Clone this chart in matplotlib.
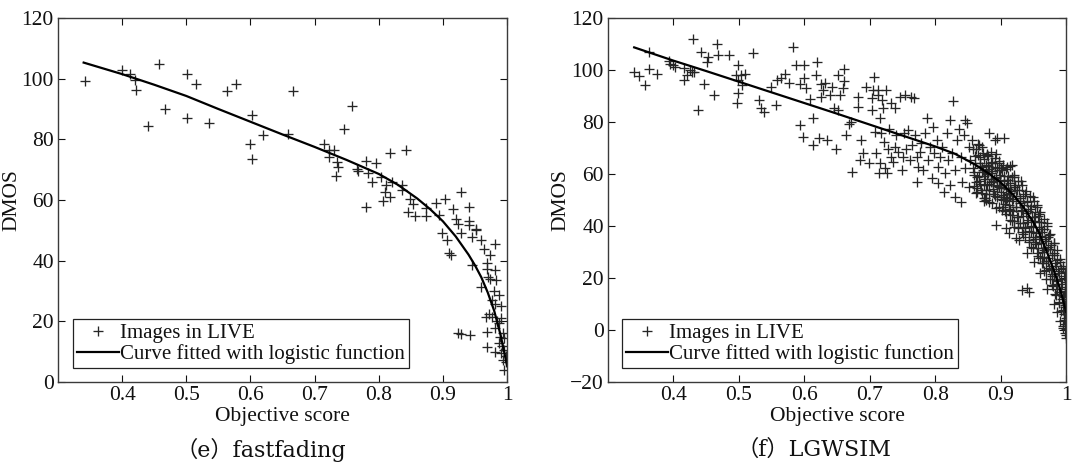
import matplotlib
matplotlib.use("Agg")
import matplotlib.pyplot as plt

# ---------------- data: (e) fastfading ----------------
ff_points = [
    (0.342, 99.2), (0.400, 102.9), (0.412, 101.6), (0.420, 99.7), (0.422, 96.2),
    (0.440, 84.4), (0.458, 105.0), (0.467, 90.0), (0.501, 101.4), (0.501, 86.9),
    (0.515, 98.3), (0.535, 85.3), (0.563, 96.0), (0.577, 98.3), (0.603, 88.0),
    (0.600, 78.5), (0.603, 73.6), (0.620, 81.3), (0.658, 81.7), (0.667, 96.0),
    (0.759, 91.1), (0.746, 83.5), (0.714, 78.5), (0.722, 76.5), (0.730, 76.5),
    (0.723, 74.2), (0.735, 72.6), (0.736, 70.8), (0.734, 67.8), (0.766, 70.2),
    (0.768, 69.6), (0.780, 72.8), (0.780, 57.6), (0.784, 68.8), (0.790, 66.0),
    (0.796, 72.1), (0.804, 67.7), (0.806, 59.8), (0.810, 62.7), (0.818, 75.6),
    (0.811, 64.9), (0.818, 61.1), (0.820, 66.0), (0.836, 64.9), (0.842, 76.5),
    (0.837, 63.3), (0.848, 60.2), (0.846, 56.1), (0.853, 58.7), (0.857, 54.7),
    (0.873, 54.7), (0.873, 57.4), (0.890, 59.1), (0.894, 55.1), (0.903, 60.2),
    (0.916, 56.9), (0.920, 53.9), (0.928, 62.7), (0.940, 57.6), (0.940, 53.2),
    (0.941, 51.7), (0.952, 50.6), (0.899, 49.0), (0.907, 46.8), (0.928, 49.0),
    (0.923, 52.2), (0.946, 47.9), (0.951, 50.1), (0.959, 46.8), (0.981, 45.5),
    (0.974, 42.0), (0.910, 42.4), (0.913, 42.0), (0.946, 38.6), (0.969, 39.1),
    (0.969, 37.4), (0.982, 36.9), (0.974, 34.1), (0.983, 33.5), (0.959, 31.4),
    (0.987, 28.7), (0.982, 25.7), (0.977, 21.5), (0.967, 21.5), (0.972, 22.5),
    (0.990, 21.0), (0.995, 14.4), (0.923, 16.0), (0.928, 15.8), (0.943, 15.5),
    (0.969, 16.6), (0.982, 17.7), (0.987, 19.3), (0.969, 11.6), (0.982, 10.0),
    (0.990, 9.4), (0.993, 7.1), (0.995, 3.9), (0.987, 12.7), (0.992, 12.0),
    (0.996, 10.5), (0.998, 8.5), (0.999, 6.5), (0.994, 16.0), (0.989, 15.0),
    (0.985, 20.0), (0.979, 30.0), (0.976, 27.0), (0.990, 25.0), (0.964, 44.0),
    (0.971, 34.5),
]
ff_fit_x = [0.34, 0.40, 0.45, 0.50, 0.55, 0.60, 0.65, 0.70, 0.75, 0.80, 0.83,
            0.86, 0.88, 0.90, 0.92, 0.94, 0.95, 0.96, 0.97, 0.98, 0.99, 0.995, 1.0]
ff_fit_y = [105.3, 101.5, 98.0, 94.3, 90.0, 85.8, 81.6, 77.5, 73.2, 68.6, 65.0,
            60.5, 57.0, 53.0, 48.0, 42.0, 38.5, 34.5, 29.5, 23.5, 15.5, 10.5, 5.5]

# ---------------- data: (f) LGWSIM ----------------
lg_points_upper = [
    (0.340, 99.3), (0.347, 97.7), (0.356, 94.2), (0.362, 100.2), (0.362, 107.0),
    (0.375, 98.4), (0.393, 103.6), (0.394, 102.3), (0.399, 101.9), (0.403, 101.3),
    (0.416, 100.6), (0.416, 96.1), (0.420, 98.1), (0.425, 100.0), (0.429, 99.3),
    (0.432, 99.3), (0.437, 84.8), (0.430, 111.8), (0.442, 107.0), (0.446, 94.8),
    (0.451, 103.2), (0.453, 105.1), (0.462, 90.4), (0.466, 110.0), (0.468, 105.7),
    (0.485, 105.7), (0.498, 101.9), (0.495, 98.1), (0.498, 96.1), (0.498, 91.0),
    (0.497, 87.4), (0.503, 98.1), (0.509, 98.4), (0.505, 94.2), (0.522, 106.4),
    (0.531, 88.4), (0.534, 85.2), (0.539, 83.9), (0.549, 93.3), (0.557, 86.5),
    (0.559, 96.1), (0.564, 96.8), (0.571, 98.4), (0.577, 95.1), (0.583, 108.7),
    (0.588, 101.9), (0.593, 94.6), (0.593, 78.8), (0.598, 74.1), (0.600, 101.9),
    (0.600, 96.8), (0.603, 92.9), (0.608, 88.7), (0.613, 81.4), (0.614, 71.1),
    (0.619, 103.2), (0.618, 98.1), (0.623, 73.7), (0.625, 94.8), (0.626, 89.7),
    (0.628, 92.3), (0.631, 95.1), (0.635, 73.1), (0.640, 90.4), (0.642, 93.3),
    (0.646, 85.2), (0.649, 69.8), (0.651, 84.6), (0.651, 98.1), (0.654, 90.4),
    (0.659, 92.9), (0.660, 100.2), (0.661, 95.9), (0.664, 75.0), (0.669, 79.2),
    (0.672, 80.1), (0.673, 60.9), (0.682, 89.7), (0.682, 85.9), (0.685, 65.4),
    (0.687, 73.1), (0.690, 67.9), (0.695, 93.3), (0.699, 64.1), (0.703, 84.6),
    (0.704, 89.1), (0.705, 92.3), (0.707, 97.4), (0.708, 76.3), (0.709, 67.9),
    (0.712, 90.4), (0.713, 92.3), (0.714, 60.2), (0.715, 81.4), (0.715, 64.1),
    (0.718, 75.6), (0.719, 88.4), (0.720, 85.2), (0.722, 72.4), (0.724, 62.2),
    (0.725, 92.3), (0.727, 60.2), (0.728, 69.8), (0.730, 77.5), (0.732, 66.6),
    (0.733, 87.2), (0.735, 64.7), (0.738, 70.5), (0.739, 85.2), (0.740, 75.0),
    (0.743, 68.6), (0.746, 89.7), (0.749, 61.5), (0.751, 66.6), (0.753, 75.6),
    (0.754, 90.4), (0.756, 69.8), (0.759, 76.9), (0.761, 65.4), (0.763, 89.7),
    (0.764, 71.1), (0.767, 89.1), (0.769, 75.0), (0.772, 57.0), (0.772, 66.6),
    (0.774, 62.8), (0.777, 68.6), (0.779, 71.8), (0.782, 61.5), (0.784, 75.6),
    (0.787, 81.4), (0.789, 65.4), (0.792, 70.5), (0.795, 58.3), (0.797, 78.2),
    (0.799, 67.9), (0.803, 73.1), (0.804, 56.4), (0.805, 62.8), (0.808, 66.6),
    (0.810, 70.5), (0.813, 53.2), (0.815, 60.2), (0.818, 75.6), (0.820, 65.4),
    (0.822, 80.8), (0.823, 55.7), (0.826, 67.9), (0.828, 88.2), (0.830, 51.3),
    (0.831, 61.5), (0.833, 73.1), (0.836, 77.5), (0.839, 49.3), (0.839, 66.6),
    (0.841, 57.0), (0.844, 75.0), (0.845, 80.8), (0.846, 62.2), (0.849, 79.5),
    (0.851, 70.5), (0.852, 55.1), (0.854, 65.4), (0.857, 73.1), (0.860, 59.6),
    (0.862, 69.8), (0.864, 53.2), (0.867, 71.1), (0.869, 66.6), (0.872, 62.8),
    (0.874, 55.7), (0.876, 50.6), (0.877, 50.0), (0.879, 67.3), (0.881, 60.2),
    (0.882, 75.6), (0.885, 57.0), (0.887, 64.1), (0.890, 52.5), (0.892, 73.1),
    (0.893, 58.3), (0.895, 73.7), (0.898, 55.1), (0.900, 62.2), (0.903, 47.4),
    (0.905, 73.7), (0.908, 50.0), (0.910, 57.7), (0.913, 52.5), (0.915, 46.1),
    (0.918, 63.4), (0.921, 55.1), (0.893, 40.4), (0.908, 39.1), (0.913, 37.2),
    (0.921, 39.7), (0.923, 35.2), (0.933, 15.4), (0.944, 14.7), (0.941, 16.0),
]
lg_points_band = [
    (0.858, 69.5), (0.861, 64.2), (0.859, 60.8), (0.862, 57.1), (0.864, 54.6),
    (0.866, 67.3), (0.868, 62.9), (0.867, 59.4), (0.869, 56.2), (0.871, 52.8),
    (0.872, 70.4), (0.874, 65.6), (0.873, 61.7), (0.876, 57.9), (0.877, 54.0), (0.875, 49.6),
    (0.879, 67.8), (0.881, 63.1), (0.880, 59.9), (0.882, 56.3), (0.883, 52.4),
    (0.885, 68.6), (0.886, 64.4), (0.887, 61.2), (0.888, 57.5), (0.889, 53.3), (0.887, 48.7),
    (0.891, 66.1), (0.892, 62.6), (0.893, 58.8), (0.894, 55.2), (0.895, 51.0), (0.893, 46.9),
    (0.897, 64.9), (0.898, 61.4), (0.899, 57.7), (0.901, 54.6), (0.900, 50.3), (0.902, 46.2),
    (0.903, 63.6), (0.905, 59.3), (0.906, 55.9), (0.904, 52.1), (0.907, 48.4), (0.908, 44.7),
    (0.909, 61.8), (0.911, 57.6), (0.912, 54.3), (0.910, 50.6), (0.913, 46.4), (0.914, 42.5),
    (0.915, 62.9), (0.917, 58.7), (0.916, 53.5), (0.918, 49.8), (0.919, 45.6), (0.920, 41.8),
    (0.921, 59.8), (0.922, 55.6), (0.924, 51.7), (0.923, 47.5), (0.925, 43.6), (0.926, 39.4),
    (0.927, 57.4), (0.928, 53.9), (0.929, 49.6), (0.931, 45.8), (0.930, 41.2), (0.932, 37.6), (0.928, 34.5),
    (0.933, 55.8), (0.934, 51.5), (0.936, 47.9), (0.935, 43.7), (0.937, 39.8), (0.938, 35.6),
    (0.939, 53.6), (0.940, 49.2), (0.942, 45.9), (0.941, 41.6), (0.943, 37.9), (0.944, 33.7), (0.940, 29.8),
    (0.945, 51.4), (0.946, 47.7), (0.948, 43.5), (0.947, 39.9), (0.949, 35.8), (0.950, 31.6),
    (0.951, 49.7), (0.952, 45.4), (0.953, 41.8), (0.954, 37.4), (0.952, 33.9), (0.955, 29.7), (0.951, 26.3),
    (0.956, 47.5), (0.957, 43.9), (0.958, 39.6), (0.959, 35.7), (0.957, 31.5), (0.960, 27.8),
    (0.961, 45.2), (0.962, 41.6), (0.963, 37.8), (0.962, 33.6), (0.964, 29.9), (0.965, 25.7), (0.961, 21.9),
    (0.966, 42.8), (0.967, 38.7), (0.968, 34.9), (0.967, 30.8), (0.969, 26.6), (0.970, 22.9),
    (0.971, 39.9), (0.972, 35.6), (0.973, 31.8), (0.972, 27.7), (0.974, 23.8), (0.975, 19.6), (0.971, 15.8),
    (0.976, 36.8), (0.977, 32.7), (0.978, 28.9), (0.977, 24.6), (0.979, 20.8), (0.980, 16.9),
    (0.981, 33.6), (0.982, 29.8), (0.983, 25.9), (0.982, 21.7), (0.984, 17.8), (0.985, 13.6), (0.981, 9.9),
    (0.986, 30.7), (0.987, 26.8), (0.988, 22.6), (0.987, 18.9), (0.989, 14.7), (0.990, 10.8), (0.986, 6.9),
    (0.991, 27.4), (0.992, 23.6), (0.993, 19.7), (0.992, 15.6), (0.994, 11.8), (0.995, 7.7), (0.991, 3.6),
    (0.996, 24.5), (0.997, 20.8), (0.998, 16.6), (0.997, 12.7), (0.999, 8.8), (1.000, 4.6), (0.996, 0.7),
    (0.999, 22.3), (1.000, 18.4), (0.998, 14.5), (1.000, 10.2), (0.999, 6.1), (0.998, 2.3), (1.000, -1.8),
]
lg_points_core = [
    (0.861, 66.8), (0.858, 62.3), (0.864, 58.9), (0.860, 55.2), (0.866, 71.4), (0.863, 52.7),
    (0.869, 64.1), (0.871, 60.6), (0.867, 57.3), (0.873, 68.2), (0.870, 53.9), (0.875, 50.8),
    (0.877, 63.5), (0.874, 59.1), (0.879, 55.7), (0.881, 66.9), (0.878, 52.2), (0.883, 61.8),
    (0.885, 57.9), (0.882, 49.3), (0.887, 64.6), (0.889, 54.4), (0.886, 60.2), (0.891, 51.6),
    (0.893, 67.7), (0.890, 58.1), (0.895, 62.4), (0.897, 47.5), (0.894, 55.9), (0.899, 59.8),
    (0.901, 53.1), (0.898, 64.3), (0.903, 49.9), (0.905, 57.2), (0.902, 61.6), (0.907, 45.8),
    (0.909, 54.7), (0.906, 51.3), (0.911, 59.4), (0.913, 48.2), (0.910, 62.8), (0.915, 52.6),
    (0.917, 44.1), (0.914, 56.5), (0.919, 50.3), (0.921, 58.7), (0.918, 41.9), (0.923, 47.4),
    (0.925, 53.8), (0.922, 55.1), (0.927, 43.6), (0.929, 50.9), (0.926, 39.8), (0.931, 57.2),
    (0.933, 46.3), (0.930, 48.7), (0.935, 41.2), (0.937, 52.5), (0.934, 36.9), (0.939, 44.9),
    (0.941, 49.8), (0.938, 39.4), (0.943, 34.6), (0.945, 46.7), (0.942, 42.3), (0.947, 37.8),
    (0.949, 51.2), (0.946, 31.9), (0.951, 43.4), (0.953, 35.1), (0.950, 39.7), (0.955, 47.9),
    (0.957, 28.6), (0.954, 33.2), (0.959, 41.5), (0.961, 36.3), (0.958, 44.8), (0.963, 25.9),
    (0.965, 31.7), (0.962, 38.9), (0.967, 22.8), (0.969, 34.4), (0.966, 28.1), (0.971, 41.3),
    (0.973, 26.5), (0.970, 19.7), (0.975, 31.2), (0.977, 23.4), (0.974, 36.7), (0.979, 17.3),
    (0.981, 28.8), (0.978, 21.6), (0.983, 13.9), (0.985, 24.7), (0.982, 33.5), (0.987, 19.2),
    (0.989, 10.4), (0.986, 15.8), (0.991, 26.1), (0.993, 7.3), (0.990, 21.9), (0.995, 13.2),
    (0.997, 3.8), (0.994, 17.6), (0.999, 9.6), (1.000, 0.4), (0.996, 23.8), (0.998, 14.9),
    (1.000, -3.1), (0.997, 6.2), (0.999, 19.5), (0.995, 1.7), (1.000, 11.8), (0.998, -1.2),
]
lg_fit_x = [0.34, 0.40, 0.45, 0.50, 0.55, 0.60, 0.65, 0.70, 0.75, 0.80, 0.83,
            0.86, 0.88, 0.90, 0.92, 0.935, 0.95, 0.96, 0.97, 0.98, 0.99, 0.995, 1.0]
lg_fit_y = [108.7, 103.6, 99.6, 95.5, 91.4, 87.3, 83.2, 79.0, 74.8, 70.6, 67.8,
            63.8, 60.5, 56.8, 51.8, 47.2, 41.5, 36.8, 30.5, 24.0, 16.5, 12.0, 7.0]

x_ticks = [0.4, 0.5, 0.6, 0.7, 0.8, 0.9, 1.0]
x_tick_labels = ["0.4", "0.5", "0.6", "0.7", "0.8", "0.9", "1"]
ff_y_ticks = [0, 20, 40, 60, 80, 100, 120]
lg_y_ticks = [-20, 0, 20, 40, 60, 80, 100, 120]
captions = ["\uff08e\uff09fastfading", "\uff08f\uff09LGWSIM"]

# ---------------- drawing ----------------
plt.rcParams["font.family"] = ["Liberation Serif", "DejaVu Serif"]
plt.rcParams["axes.unicode_minus"] = True

W, H = 1072, 468
fig = plt.figure(figsize=(W / 100, H / 100), dpi=100)


def rect(l, t, r, b):
    return [l / W, 1 - b / H, (r - l) / W, (b - t) / H]


MK = "#262626"
FS = 15
TFS = 15.5


def panel(ax, pts, fx, fy, yt, ylim):
    xs = [p[0] for p in pts]
    ys = [p[1] for p in pts]
    ax.plot(xs, ys, linestyle="none", marker="+", color=MK, ms=7.5, mew=0.95,
            label="Images in LIVE")
    ax.plot(fx, fy, "-", color="black", lw=1.6,
            label="Curve fitted with logistic function")
    ax.set_xlim(0.3, 1.0)
    ax.set_ylim(*ylim)
    ax.set_xticks(x_ticks)
    ax.set_xticklabels(x_tick_labels)
    ax.set_yticks(yt)
    ax.tick_params(direction="in", top=True, right=True, length=5, width=0.8,
                   labelsize=TFS, pad=3, colors="#111111")
    for s in ax.spines.values():
        s.set_linewidth(1.0)
        s.set_color("#3a3a3a")
    ax.set_xlabel("Objective score", fontsize=TFS, labelpad=1, color="#111111")
    ax.set_ylabel("DMOS", fontsize=TFS, labelpad=0, color="#111111")
    leg = ax.legend(loc="lower left", bbox_to_anchor=(0.033, 0.038),
                    borderaxespad=0, fontsize=FS, frameon=True, fancybox=False,
                    edgecolor="#222222", framealpha=1, handlelength=2.0,
                    handletextpad=0.05, labelspacing=0.05, borderpad=0.2)
    leg.get_frame().set_linewidth(0.9)
    for t in leg.get_texts():
        t.set_color("#111111")


ax1 = fig.add_axes(rect(58, 18, 507, 382))
panel(ax1, ff_points, ff_fit_x, ff_fit_y, ff_y_ticks, (0, 120))

ax2 = fig.add_axes(rect(608, 18, 1066, 382))
panel(ax2, lg_points_upper + lg_points_band + lg_points_core,
      lg_fit_x, lg_fit_y, lg_y_ticks, (-20, 120))
leg2 = ax2.get_legend()
leg2.set_bbox_to_anchor((0.030, 0.038))

fig.text(261 / W, 1 - 450 / H, captions[0], ha="center", va="center",
         fontsize=16, family=["DejaVu Serif", "Noto Sans CJK SC"], color="#111111")
fig.text(814 / W, 1 - 450 / H, captions[1], ha="center", va="center",
         fontsize=16, family=["DejaVu Serif", "Noto Sans CJK SC"], color="#111111")

fig.savefig("out.png", dpi=100)
